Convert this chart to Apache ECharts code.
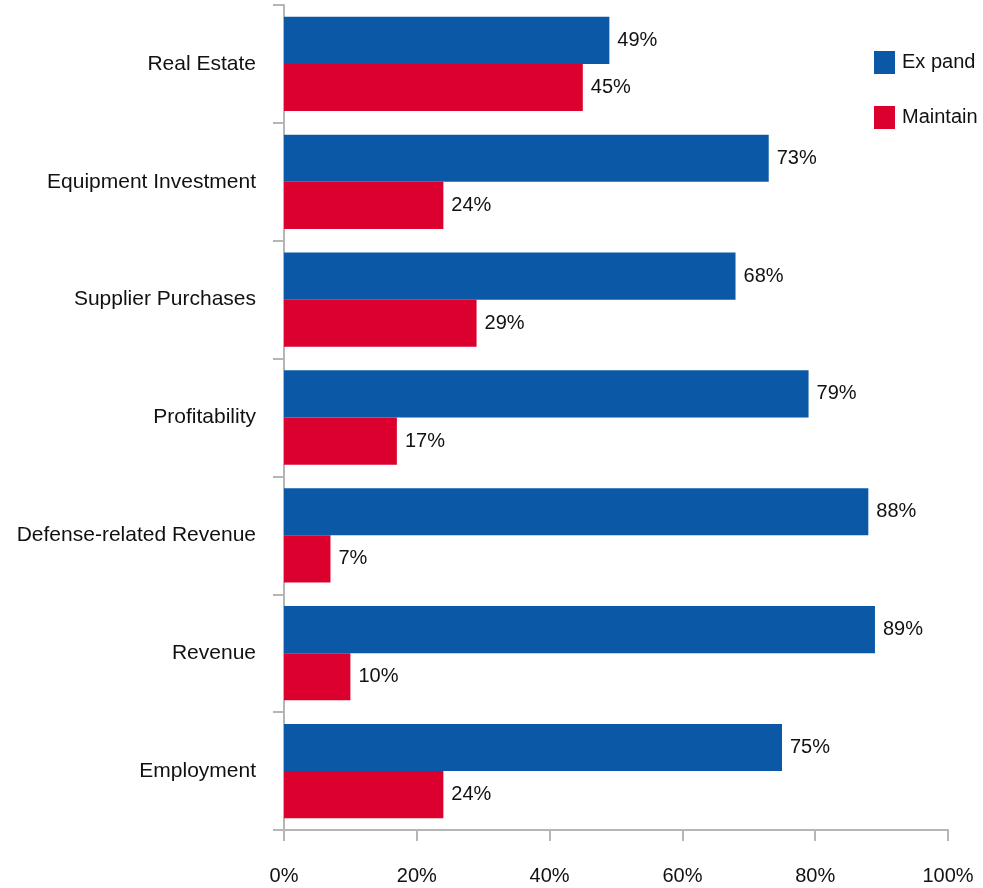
<!DOCTYPE html>
<html>
<head>
<meta charset="utf-8">
<script src="https://cdn.jsdelivr.net/npm/echarts@6/dist/echarts.min.js"></script>
<style>
  html, body { margin: 0; padding: 0; background: #fff; }
  #main { width: 983px; height: 888px; }
</style>
</head>
<body>
<div id="main"></div>
<script>
// categories, top to bottom
var categories = ['Real Estate', 'Equipment Investment', 'Supplier Purchases', 'Profitability',
  'Defense-related Revenue', 'Revenue', 'Employment'];
var expand = [49, 73, 68, 79, 88, 89, 75];
var maintain = [45, 24, 29, 17, 7, 10, 24];
var xTicks = [0, 20, 40, 60, 80, 100];

var font = 'Liberation Sans, Arial, sans-serif';
var axisGrey = '#b5b5b5';

var chart = echarts.init(document.getElementById('main'));

var option = {
  animation: false,
  textStyle: { fontFamily: font },
  grid: { left: 284, right: 35, top: 5, bottom: 58, containLabel: false },
  legend: {
    orient: 'vertical',
    left: 869,
    top: 46,
    itemWidth: 21,
    itemHeight: 23,
    itemGap: 32,
    icon: 'rect',
    textStyle: { fontSize: 20, color: '#111', fontFamily: font, padding: [0, 0, 0, 2] },
    data: ['Ex pand', 'Maintain']
  },
  xAxis: {
    type: 'value',
    min: xTicks[0],
    max: xTicks[xTicks.length - 1],
    interval: 20,
    splitLine: { show: false },
    axisLine: { show: true, lineStyle: { color: axisGrey, width: 2 } },
    axisTick: { show: true, length: 11, lineStyle: { color: axisGrey, width: 2 } },
    axisLabel: { margin: 36, fontSize: 20, color: '#111', formatter: '{value}%' }
  },
  yAxis: {
    type: 'category',
    inverse: true,
    data: categories,
    axisLine: { show: true, lineStyle: { color: axisGrey, width: 2 } },
    axisTick: { show: true, length: 11, lineStyle: { color: axisGrey, width: 2 } },
    axisLabel: { margin: 28, fontSize: 21, color: '#111' }
  },
  series: [
    {
      name: 'Ex pand',
      type: 'bar',
      data: expand,
      itemStyle: { color: '#0a58a6' },
      barGap: '0%',
      barCategoryGap: '20%',
      label: { show: true, position: 'right', distance: 8, fontSize: 20, color: '#111', formatter: '{c}%' }
    },
    {
      name: 'Maintain',
      type: 'bar',
      data: maintain,
      itemStyle: { color: '#dc002e' },
      barGap: '0%',
      barCategoryGap: '20%',
      label: { show: true, position: 'right', distance: 8, fontSize: 20, color: '#111', formatter: '{c}%' }
    }
  ]
};

chart.setOption(option);
</script>
</body>
</html>
